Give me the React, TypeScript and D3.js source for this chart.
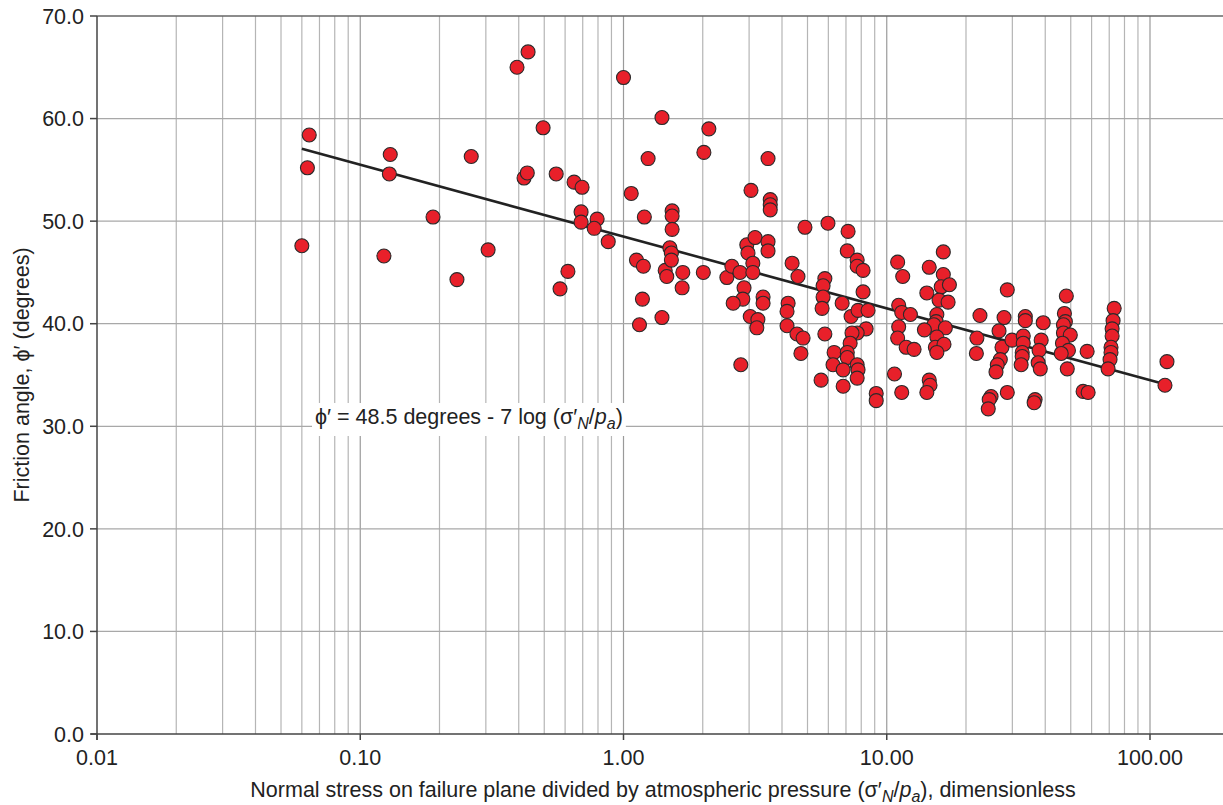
import { useEffect, useRef } from 'react';
import * as d3 from 'd3';

// normal stress / atmospheric pressure
const stressRatio = [
  0.060, 0.063, 0.064, 0.123, 0.129, 0.130, 0.189, 0.233, 0.264, 0.306,
  0.394, 0.434, 0.419, 0.431, 0.495, 0.555, 0.574, 0.615, 0.649, 0.696,
  0.690, 0.690, 0.794, 0.774, 0.875, 1.00, 1.07, 1.12, 1.19, 1.18,
  1.15, 1.20, 1.24, 1.40, 1.40, 1.44, 1.46, 1.53, 1.53, 1.53,
  1.50, 1.52, 1.52, 1.68, 1.67, 2.02, 2.11, 2.01, 2.47, 2.58,
  2.77, 2.87, 2.84, 2.61, 2.79, 2.94, 2.97, 3.05, 3.16, 3.10,
  3.10, 3.03, 3.24, 3.21, 3.39, 3.39, 3.54, 3.54, 3.54, 3.61,
  3.61, 3.61, 4.37, 4.60, 4.22, 4.18, 4.18, 4.56, 4.81, 4.72,
  4.89, 5.98, 5.82, 5.73, 5.73, 5.68, 5.82, 6.31, 6.25, 5.63,
  7.13, 7.08, 7.72, 7.72, 8.13, 8.13, 6.77, 7.32, 7.78, 8.49,
  8.35, 7.72, 7.38, 7.26, 7.08, 7.08, 7.72, 7.78, 7.72, 6.83,
  6.83, 9.12, 9.12,
  11.0, 11.5, 11.1, 11.4, 12.3, 11.1, 11.0, 11.85, 12.7, 10.7, 11.4,
  14.5, 16.4, 16.4, 16.1, 17.3, 14.2, 15.8, 17.1, 15.5, 15.4,
  15.1, 16.7, 13.9, 15.5, 15.3, 16.5, 15.5, 14.5, 14.6, 14.2,
  22.6, 22.0, 21.9, 28.7, 27.9, 26.7, 27.4, 29.9, 27.0, 26.3, 26.0, 24.9, 24.5, 24.3, 28.7,
  33.6, 33.6, 33.0, 33.0, 32.7, 32.7, 32.4, 39.3, 38.6, 37.9, 37.6, 38.3, 36.6, 36.3,
  48.1, 47.3, 47.7, 46.9, 46.9, 49.8, 46.5, 49.0, 46.0, 48.5, 57.7, 55.7, 58.2,
  73.1, 72.4, 71.8, 71.8, 71.1, 71.1, 70.5, 69.3, 116, 114,
];

// friction angle, degrees
const frictionAngle = [
  47.6, 55.2, 58.4, 46.6, 54.6, 56.5, 50.4, 44.3, 56.3, 47.2,
  65.0, 66.5, 54.2, 54.7, 59.1, 54.6, 43.4, 45.1, 53.8, 53.3,
  50.9, 49.9, 50.2, 49.3, 48.0, 64.0, 52.7, 46.2, 45.6, 42.4,
  39.9, 50.4, 56.1, 60.1, 40.6, 45.2, 44.6, 51.0, 50.5, 49.2,
  47.4, 46.9, 46.2, 45.0, 43.5, 56.7, 59.0, 45.0, 44.5, 45.6,
  45.0, 43.5, 42.4, 42.0, 36.0, 47.7, 46.9, 53.0, 48.4, 45.9,
  45.0, 40.7, 40.4, 39.6, 42.6, 42.0, 56.1, 48.0, 47.1, 52.1,
  51.6, 51.1, 45.9, 44.6, 42.0, 41.2, 39.8, 39.0, 38.6, 37.1,
  49.4, 49.8, 44.4, 43.7, 42.6, 41.5, 39.0, 37.2, 36.0, 34.5,
  49.0, 47.1, 46.2, 45.6, 45.2, 43.1, 42.0, 40.7, 41.3, 41.3,
  39.5, 39.1, 39.1, 38.1, 37.2, 36.7, 36.0, 35.5, 34.7, 35.5,
  33.9, 33.2, 32.5,
  46.0, 44.6, 41.8, 41.1, 40.9, 39.7, 38.6, 37.7, 37.5, 35.1, 33.3,
  45.5, 47.0, 44.8, 43.6, 43.8, 43.0, 42.3, 42.1, 40.9, 40.2,
  39.9, 39.6, 39.4, 38.7, 37.7, 38.0, 37.2, 34.5, 34.0, 33.3,
  40.8, 38.6, 37.1, 43.3, 40.6, 39.3, 37.7, 38.4, 36.5, 36.0, 35.3, 32.9, 32.6, 31.7, 33.3,
  40.7, 40.3, 38.8, 38.1, 37.2, 36.8, 36.0, 40.1, 38.4, 37.4, 36.2, 35.6, 32.6, 32.3,
  42.7, 41.0, 40.2, 39.9, 39.1, 38.9, 38.1, 37.4, 37.1, 35.6, 37.3, 33.4, 33.3,
  41.5, 40.3, 39.5, 38.8, 37.7, 37.2, 36.5, 35.6, 36.3, 34.0,
];

// fitted line end points: phi' = 48.5 - 7 log(sigma'N/pa)
const fitX = [0.06, 115];
const fitY = [57.05, 34.08];

const xTickValues = [0.01, 0.1, 1, 10, 100];
const xTickLabels = ['0.01', '0.10', '1.00', '10.00', '100.00'];
const yTickValues = [0, 10, 20, 30, 40, 50, 60, 70];

const FONT = '"Liberation Sans", Arial, Helvetica, sans-serif';
const FS = 21.5;
const SUB = 16;

export default function App() {
  const svgRef = useRef<SVGSVGElement | null>(null);
  const width = 1223;
  const height = 805;

  useEffect(() => {
    if (!svgRef.current) return;
    const svg = d3.select(svgRef.current);
    svg.selectAll('*').remove();

    const left = 97;
    const right = 1223;
    const top = 16;
    const bottom = 734;

    const x = d3.scaleLog().domain([0.01, 100]).range([left, 1150]);
    const y = d3.scaleLinear().domain([0, 70]).range([bottom, top]);

    const grid = svg.append('g');

    // minor + major vertical grid lines
    const vLines: number[] = [];
    [0.01, 0.1, 1, 10].forEach((d) => {
      for (let k = 2; k <= 10; k++) vLines.push(d * k);
    });
    grid
      .selectAll('line.v')
      .data(vLines)
      .enter()
      .append('line')
      .attr('x1', (d) => x(d))
      .attr('x2', (d) => x(d))
      .attr('y1', top)
      .attr('y2', bottom)
      .attr('stroke', (d) => (xTickValues.includes(d) ? '#9a9a9a' : '#b5b5b5'))
      .attr('stroke-width', 1.2);

    // horizontal grid lines
    grid
      .selectAll('line.h')
      .data(yTickValues.filter((d) => d > 0 && d < 70))
      .enter()
      .append('line')
      .attr('x1', left)
      .attr('x2', right)
      .attr('y1', (d) => y(d))
      .attr('y2', (d) => y(d))
      .attr('stroke', '#a8a8a8')
      .attr('stroke-width', 1.2);

    // frame: top, left, bottom
    svg.append('line').attr('x1', left).attr('x2', right).attr('y1', top).attr('y2', top)
      .attr('stroke', '#666').attr('stroke-width', 1.5);
    svg.append('line').attr('x1', left).attr('x2', left).attr('y1', top).attr('y2', bottom + 6)
      .attr('stroke', '#444').attr('stroke-width', 1.5);
    svg.append('line').attr('x1', left - 6).attr('x2', right).attr('y1', bottom).attr('y2', bottom)
      .attr('stroke', '#444').attr('stroke-width', 1.5);

    // y ticks + labels
    const yAxis = svg.append('g');
    yTickValues.forEach((v) => {
      yAxis.append('line').attr('x1', left - 7).attr('x2', left).attr('y1', y(v)).attr('y2', y(v))
        .attr('stroke', '#444').attr('stroke-width', 1.5);
      yAxis.append('text')
        .attr('x', left - 13)
        .attr('y', y(v))
        .attr('dy', '0.36em')
        .attr('text-anchor', 'end')
        .attr('font-family', FONT)
        .attr('font-size', FS)
        .attr('fill', '#222')
        .text(v.toFixed(1));
    });

    // x ticks + labels
    const xAxis = svg.append('g');
    xTickValues.forEach((v, i) => {
      xAxis.append('line').attr('x1', x(v)).attr('x2', x(v)).attr('y1', bottom).attr('y2', bottom + 6)
        .attr('stroke', '#444').attr('stroke-width', 1.5);
      xAxis.append('text')
        .attr('x', x(v))
        .attr('y', 765)
        .attr('text-anchor', 'middle')
        .attr('font-family', FONT)
        .attr('font-size', FS)
        .attr('fill', '#222')
        .text(xTickLabels[i]);
    });

    // axis titles
    const xt = svg.append('text')
      .attr('x', 663)
      .attr('y', 797)
      .attr('text-anchor', 'middle')
      .attr('font-family', FONT)
      .attr('font-size', FS)
      .attr('fill', '#222');
    xt.append('tspan').text('Normal stress on failure plane divided by atmospheric pressure (σ′');
    xt.append('tspan').attr('font-style', 'italic').attr('font-size', SUB).attr('dy', 5).text('N');
    xt.append('tspan').attr('dy', -5).text('/');
    xt.append('tspan').attr('font-style', 'italic').text('p');
    xt.append('tspan').attr('font-style', 'italic').attr('font-size', SUB).attr('dy', 5).text('a');
    xt.append('tspan').attr('dy', -5).text('), dimensionless');

    svg.append('text')
      .attr('transform', `translate(29,${(top + bottom) / 2}) rotate(-90)`)
      .attr('text-anchor', 'middle')
      .attr('font-family', FONT)
      .attr('font-size', FS)
      .attr('fill', '#222')
      .text('Friction angle, ϕ′ (degrees)');

    // equation label on white box
    const eq = svg.append('g');
    const box = eq.append('rect').attr('fill', 'white');
    const et = eq.append('text')
      .attr('x', 315)
      .attr('y', 424)
      .attr('font-family', FONT)
      .attr('font-size', FS)
      .attr('fill', '#222');
    et.append('tspan').text('ϕ′ = 48.5 degrees - 7 log (σ′');
    et.append('tspan').attr('font-style', 'italic').attr('font-size', SUB).attr('dy', 5).text('N');
    et.append('tspan').attr('dy', -5).text('/');
    et.append('tspan').attr('font-style', 'italic').text('p');
    et.append('tspan').attr('font-style', 'italic').attr('font-size', SUB).attr('dy', 5).text('a');
    et.append('tspan').attr('dy', -5).text(')');
    const bb = (et.node() as SVGTextElement).getBBox();
    box.attr('x', bb.x - 3).attr('y', 403).attr('width', bb.width + 6).attr('height', 33);

    // fit line
    const line = d3
      .line<number>()
      .x((d) => x(d))
      .y((_, i) => y(fitY[i]));
    svg.append('path')
      .attr('d', line(fitX)!)
      .attr('fill', 'none')
      .attr('stroke', '#222')
      .attr('stroke-width', 2.6);

    // points
    svg.append('g')
      .selectAll('circle')
      .data(stressRatio.map((s, i) => [s, frictionAngle[i]]))
      .enter()
      .append('circle')
      .attr('cx', (d) => x(d[0]))
      .attr('cy', (d) => y(d[1]))
      .attr('r', 7)
      .attr('fill', '#e8202a')
      .attr('stroke', '#2a2a2a')
      .attr('stroke-width', 1.1);
  }, []);

  return (
    <svg
      ref={svgRef}
      width={width}
      height={height}
      style={{ position: 'absolute', left: 0, top: 0, background: 'white' }}
    />
  );
}
